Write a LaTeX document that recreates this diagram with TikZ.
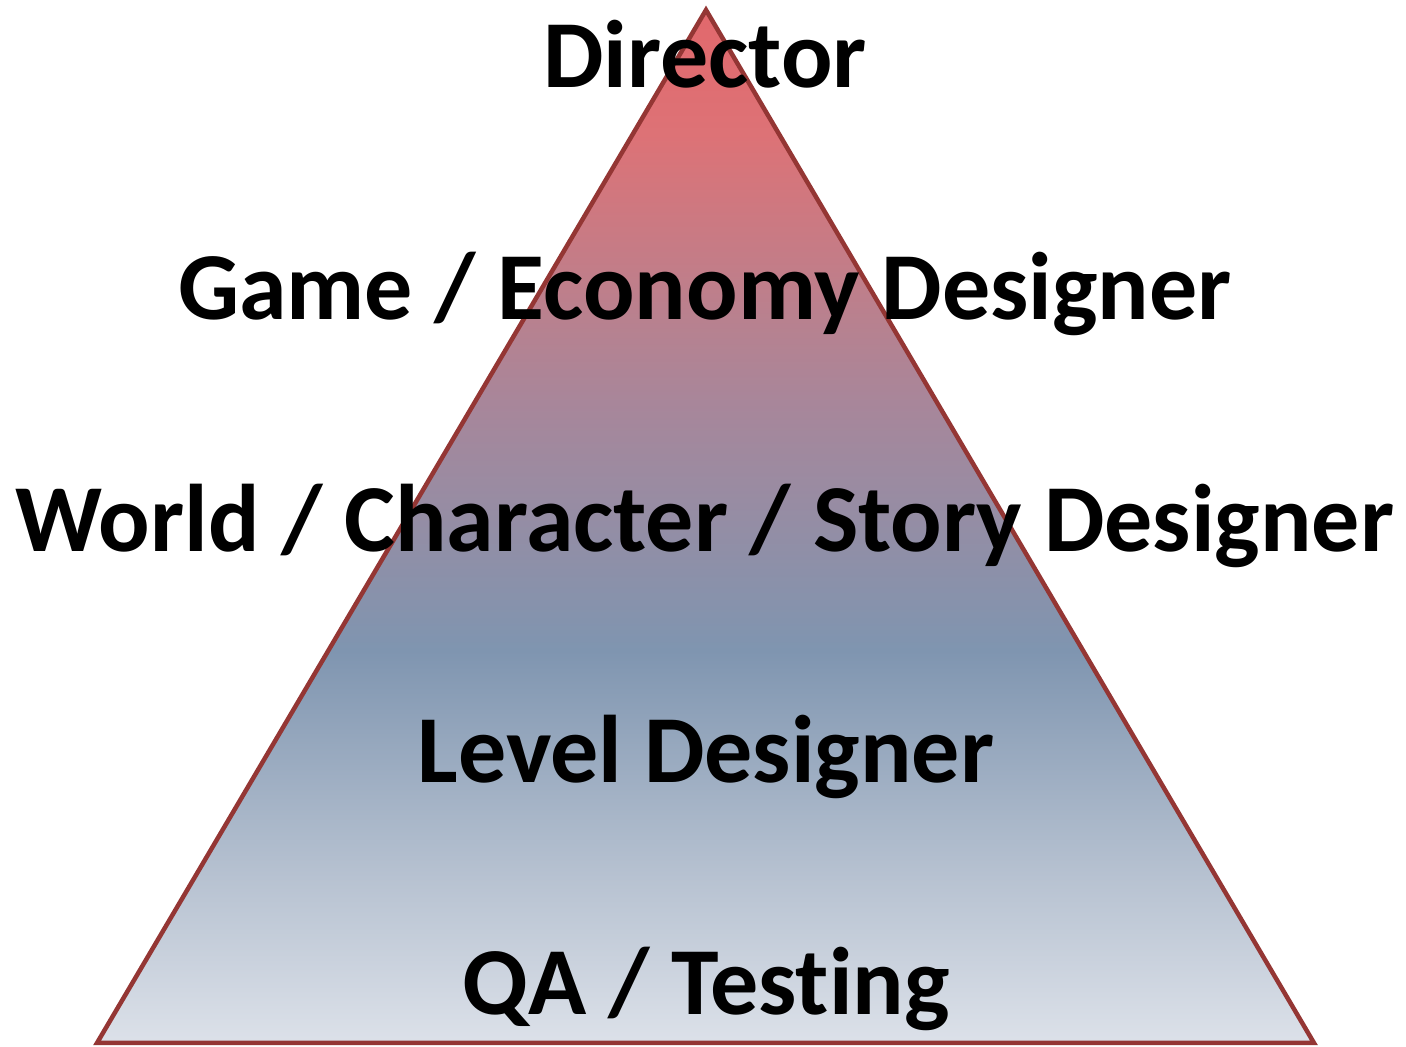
\documentclass[tikz,border=0pt]{standalone}
\usepackage{fontspec}
\setmainfont[Ligatures=NoCommon]{Carlito}
\definecolor{bcol}{HTML}{DCE1E9}
\definecolor{c84}{HTML}{B7C2D1}
\definecolor{c62}{HTML}{7F95B0}
\definecolor{c38}{HTML}{A8869A}
\definecolor{c30}{HTML}{B8818F}
\definecolor{c12}{HTML}{DD7276}
\definecolor{tcol}{HTML}{E2686C}
\definecolor{edgered}{HTML}{943634}
\pgfdeclareverticalshading{pyramidshade}{100bp}{%
  color(0bp)=(bcol); color(25bp)=(bcol); color(33bp)=(c84); color(44bp)=(c62);
  color(56bp)=(c38); color(60bp)=(c30); color(69bp)=(c12); color(75bp)=(tcol); color(100bp)=(tcol)}
\tikzset{
  level/.style={anchor=base, font=\bfseries\fontsize{96}{104}\selectfont, inner sep=0pt}
}
\begin{document}
\begin{tikzpicture}[x=1pt,y=1pt]
\useasboundingbox (0,0) rectangle (1406,1047);
\coordinate (apex) at (706,1037);
\coordinate (bl) at (97,4);
\coordinate (br) at (1314,4);
\shade[shading=pyramidshade, draw=edgered, line width=4.5pt, line join=miter] (apex) -- (br) -- (bl) -- cycle;
\node[level] (director) at (705,1047-88) {Director};
\node[level] (game) at (705,1047-320) {Game / Economy Designer};
\node[level] (world) at (705,1047-552) {World / Character / Story Designer};
\node[level] (levelnode) at (706,1047-783) {Level Designer};
\node[level] (qa) at (706,1047-1015) {QA / Testing};
\end{tikzpicture}
\end{document}
